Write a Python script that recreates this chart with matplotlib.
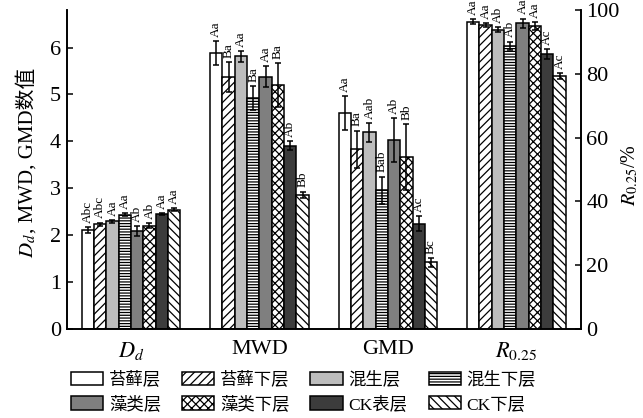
import numpy as np
import matplotlib
matplotlib.use('Agg')
import matplotlib.pyplot as plt
from matplotlib.patches import Patch

plt.rcParams['font.family'] = ['Liberation Serif', 'Noto Sans CJK SC']
plt.rcParams['mathtext.fontset'] = 'stix'
plt.rcParams['hatch.linewidth'] = 0.9

# data
groups = ['$D_d$', 'MWD', 'GMD', '$R_{0.25}$']
layers = ['苔藓层', '苔藓下层', '混生层', '混生下层', '藻类层', '藻类下层', 'CK表层', 'CK下层']

dd = [2.11, 2.23, 2.30, 2.44, 2.09, 2.20, 2.45, 2.54]
dd_err = [0.07, 0.04, 0.03, 0.04, 0.11, 0.05, 0.03, 0.03]
mwd = [5.88, 5.37, 5.81, 4.92, 5.38, 5.20, 3.91, 2.86]
mwd_err = [0.26, 0.32, 0.11, 0.26, 0.23, 0.47, 0.09, 0.07]
gmd = [4.60, 3.83, 4.19, 2.96, 4.02, 3.66, 2.24, 1.42]
gmd_err = [0.36, 0.40, 0.20, 0.29, 0.47, 0.70, 0.16, 0.09]
r025 = [96.3, 95.3, 93.8, 88.8, 95.9, 94.9, 86.2, 79.3]
r025_err = [0.8, 0.6, 0.8, 1.3, 1.4, 1.3, 1.5, 1.0]

dd_lab = ['Abc', 'Abc', 'Aa', 'Aa', 'Ab', 'Ab', 'Aa', 'Aa']
mwd_lab = ['Aa', 'Ba', 'Aa', 'Ba', 'Aa', 'Ba', 'Ab', 'Bb']
gmd_lab = ['Aa', 'Ba', 'Aab', 'Bab', 'Ab', 'Bb', 'Ac', 'Bc']
r_lab = ['Aa', 'Aa', 'Ab', 'Ab', 'Aa', 'Aa', 'Ac', 'Ac']

colors = ['white', 'white', '#bdbdbd', 'white', '#7f7f7f', 'white', '#3c3c3c', 'white']
hatches = [None, '////', None, '------', None, 'xxxx', None, '\\\\\\\\']

fig = plt.figure(figsize=(6.43, 4.18), dpi=100)
ax = fig.add_axes([0.1037, 0.2129, 0.903 - 0.1037, 0.976 - 0.2129])
ax2 = ax.twinx()

w = 0.096
all_data = [(ax, dd, dd_err, dd_lab), (ax, mwd, mwd_err, mwd_lab),
            (ax, gmd, gmd_err, gmd_lab), (ax2, r025, r025_err, r_lab)]

for g, (axis, vals, errs, labs) in enumerate(all_data):
    for i in range(8):
        x = g + (i - 3.5) * w
        axis.bar(x, vals[i], w, color=colors[i], edgecolor='black', hatch=hatches[i],
                 linewidth=1.1, zorder=2)
        axis.errorbar(x, vals[i], yerr=errs[i], color='black', elinewidth=1.1,
                      capsize=2.5, capthick=1.1, zorder=3)
        axis.annotate(labs[i], (x, vals[i] + errs[i]), xytext=(0, 3),
                      textcoords='offset points', rotation=90, ha='center', va='bottom',
                      fontsize=9.5, family='Liberation Serif')

ax.set_xlim(-0.5, 3.5)
ax.set_ylim(0, 6.8)
ax2.set_ylim(0, 100)
ax.set_xticks(range(4))
ax.set_xticklabels(groups, fontsize=16)
ax.set_yticks(range(7))
ax2.set_yticks([0, 20, 40, 60, 80, 100])
ax.tick_params(axis='x', length=0, pad=8)
ax.tick_params(axis='y', direction='in', length=4, width=1.1, labelsize=16, pad=4)
ax2.tick_params(axis='y', direction='in', length=4, width=1.1, labelsize=16, pad=4)
for a in (ax, ax2):
    a.spines['top'].set_visible(False)
    for s in ('left', 'right', 'bottom'):
        a.spines[s].set_linewidth(1.2)

# y labels: mathtext part and CJK part drawn separately
fig.text(0.0513, 0.4426, '$D_d$', rotation=90, rotation_mode='anchor',
         ha='right', va='baseline', fontsize=15)
fig.text(0.0513, 0.4426, ', MWD, GMD数值', rotation=90, rotation_mode='anchor',
         ha='left', va='baseline', fontsize=15)
fig.text(630 / 643, 0.581, '$R_{0.25}$/%', rotation=90, ha='center', va='center',
         fontsize=14.5)

# legend is filled column-wise, reorder to match the row layout
order = [0, 4, 1, 5, 2, 6, 3, 7]
handles = [Patch(facecolor=colors[i], edgecolor='black', hatch=hatches[i], linewidth=1.1,
                 label=layers[i]) for i in order]
fig.legend(handles=handles, loc='center', bbox_to_anchor=(0.472, 0.062), ncol=4,
           frameon=False, fontsize=12.5, handlelength=1.85, handleheight=0.8,
           handletextpad=0.35, columnspacing=1.2, labelspacing=0.45, borderpad=0)

fig.savefig('out.png', dpi=100)
